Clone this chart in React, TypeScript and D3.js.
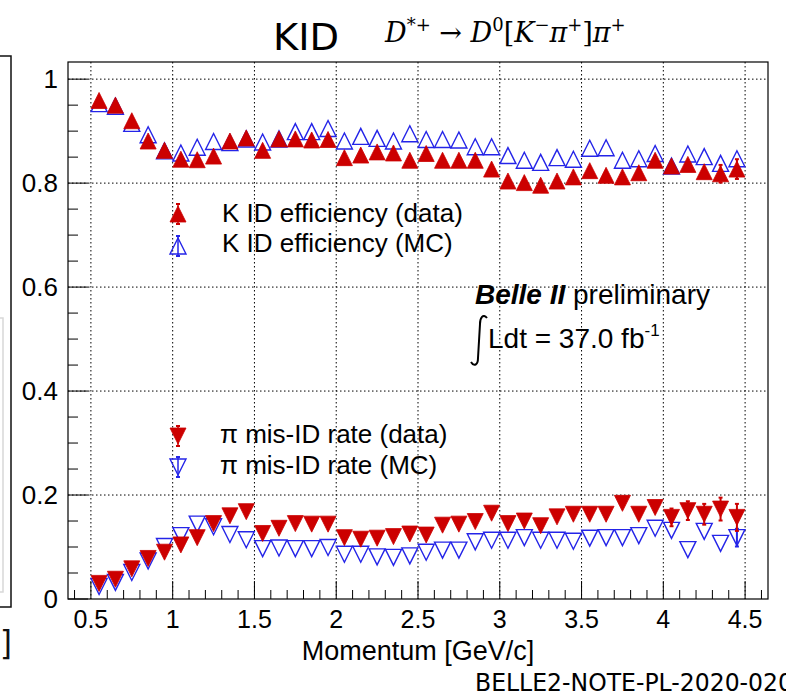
import React from "react";
import * as d3 from "d3";

// ---------- data ----------
const momentum = [
  0.55, 0.65, 0.75, 0.85, 0.95, 1.05, 1.15, 1.25, 1.35, 1.45,
  1.55, 1.65, 1.75, 1.85, 1.95, 2.05, 2.15, 2.25, 2.35, 2.45,
  2.55, 2.65, 2.75, 2.85, 2.95, 3.05, 3.15, 3.25, 3.35, 3.45,
  3.55, 3.65, 3.75, 3.85, 3.95, 4.05, 4.15, 4.25, 4.35, 4.45,
];
const kEffData = [
  0.959, 0.95, 0.92, 0.881, 0.863, 0.846, 0.845, 0.852, 0.881, 0.887,
  0.863, 0.885, 0.885, 0.883, 0.884, 0.849, 0.854, 0.86, 0.858, 0.844,
  0.857, 0.844, 0.844, 0.844, 0.827, 0.804, 0.801, 0.796, 0.804, 0.812,
  0.824, 0.815, 0.812, 0.82, 0.844, 0.833, 0.836, 0.822, 0.818, 0.827,
];
const kEffDataErr = [
  0, 0, 0, 0, 0, 0, 0, 0, 0, 0,
  0, 0, 0, 0, 0, 0, 0, 0, 0, 0,
  0, 0, 0, 0, 0, 0, 0, 0, 0, 0,
  0, 0, 0, 0, 0, 0, 0, 0, 0.017, 0.019,
];
const kEffMC = [
  0.953, 0.948, 0.915, 0.893, 0.862, 0.858, 0.869, 0.88, 0.878, 0.885,
  0.879, 0.885, 0.899, 0.899, 0.905, 0.881, 0.89, 0.886, 0.881, 0.895,
  0.884, 0.884, 0.883, 0.87, 0.87, 0.853, 0.844, 0.84, 0.849, 0.846,
  0.867, 0.868, 0.844, 0.847, 0.857, 0.833, 0.856, 0.851, 0.838, 0.847,
];
const piMisData = [
  0.03, 0.038, 0.058, 0.078, 0.09, 0.104, 0.118, 0.145, 0.16, 0.168,
  0.126, 0.136, 0.145, 0.144, 0.144, 0.118, 0.115, 0.117, 0.12, 0.125,
  0.123, 0.142, 0.144, 0.149, 0.165, 0.145, 0.15, 0.141, 0.158, 0.163,
  0.163, 0.163, 0.184, 0.163, 0.176, 0.157, 0.17, 0.163, 0.173, 0.157,
];
const piMisDataErr = [
  0, 0, 0, 0, 0, 0, 0, 0, 0, 0,
  0, 0, 0, 0, 0, 0, 0, 0, 0, 0,
  0, 0, 0, 0, 0, 0, 0, 0, 0, 0,
  0, 0, 0, 0, 0, 0.017, 0.018, 0.02, 0.022, 0.026,
];
const piMisMC = [
  0.024, 0.032, 0.051, 0.073, 0.101, 0.122, 0.144, 0.139, 0.124, 0.114,
  0.097, 0.098, 0.097, 0.097, 0.099, 0.086, 0.086, 0.081, 0.08, 0.083,
  0.09, 0.094, 0.094, 0.11, 0.113, 0.113, 0.118, 0.113, 0.113, 0.111,
  0.117, 0.118, 0.118, 0.122, 0.136, 0.132, 0.095, 0.13, 0.107, 0.118,
];
const piMisMCErr = [
  0, 0, 0, 0, 0, 0, 0, 0, 0, 0,
  0, 0, 0, 0, 0, 0, 0, 0, 0, 0,
  0, 0, 0, 0, 0, 0, 0, 0, 0, 0,
  0, 0, 0, 0, 0, 0, 0, 0, 0, 0.017,
];

const xMajorTicks = [0.5, 1, 1.5, 2, 2.5, 3, 3.5, 4, 4.5];
const xTickLabels = ["0.5", "1", "1.5", "2", "2.5", "3", "3.5", "4", "4.5"];
const yMajorTicks = [0, 0.2, 0.4, 0.6, 0.8, 1];
const yTickLabels = ["0", "0.2", "0.4", "0.6", "0.8", "1"];

const legendK = ["K ID efficiency (data)", "K ID efficiency (MC)"];
const legendPi = ["\u03c0 mis-ID rate (data)", "\u03c0 mis-ID rate (MC)"];

// ---------- layout ----------
const W = 786;
const H = 695;
const F = { left: 68, right: 768, top: 62, bottom: 599 };
const RED = "#cc0000";
const BLUE = "#2424e8";
const SANS = "'Liberation Sans', Arial, Helvetica, sans-serif";
const NARROW = "'Liberation Sans Narrow', 'DejaVu Sans Condensed', sans-serif";
const SERIF = "'DejaVu Serif', 'Liberation Serif', serif";

const x = d3.scaleLinear().domain([0.36, 4.64]).range([F.left, F.right]);
const y = d3.scaleLinear().domain([0, 1.033]).range([F.bottom, F.top]);

const S = 8; // half size of triangle markers

function triUp(): d3.SymbolType {
  return {
    draw(ctx: any) {
      ctx.moveTo(-S, S);
      ctx.lineTo(S, S);
      ctx.lineTo(0, -S);
      ctx.closePath();
    },
  };
}
function triDown(): d3.SymbolType {
  return {
    draw(ctx: any) {
      ctx.moveTo(-S, -S);
      ctx.lineTo(S, -S);
      ctx.lineTo(0, S);
      ctx.closePath();
    },
  };
}
const upPath = d3.symbol().type(triUp())() as string;
const downPath = d3.symbol().type(triDown())() as string;

type SeriesProps = {
  values: number[];
  errs?: number[];
  up: boolean;
  filled: boolean;
  color: string;
};

function Series({ values, errs, up, filled, color }: SeriesProps) {
  return (
    <g>
      {values.map((v, i) => (
        <path
          key={"m" + i}
          d={up ? upPath : downPath}
          transform={`translate(${x(momentum[i])},${y(v)})`}
          fill={filled ? color : "none"}
          stroke={color}
          strokeWidth={filled ? 0.8 : 1.4}
        />
      ))}
      {errs &&
        values.map((v, i) =>
          errs[i] > 0 ? (
            <g key={"e" + i} stroke={color} strokeWidth={2}>
              <line x1={x(momentum[i])} x2={x(momentum[i])} y1={y(v + errs[i])} y2={y(v - errs[i])} />
              <line x1={x(momentum[i]) - 2} x2={x(momentum[i]) + 2} y1={y(v + errs[i])} y2={y(v + errs[i])} />
              <line x1={x(momentum[i]) - 2} x2={x(momentum[i]) + 2} y1={y(v - errs[i])} y2={y(v - errs[i])} />
            </g>
          ) : null
        )}
    </g>
  );
}

function LegendMarker({ cx, cy, up, filled, color }: { cx: number; cy: number; up: boolean; filled: boolean; color: string }) {
  return (
    <g>
      <path
        d={up ? upPath : downPath}
        transform={`translate(${cx},${cy})`}
        fill={filled ? color : "none"}
        stroke={color}
        strokeWidth={filled ? 0.8 : 1.4}
      />
      <line x1={cx} x2={cx} y1={cy - 10} y2={cy + 10} stroke={color} strokeWidth={1.5} />
      <line x1={cx - 2} x2={cx + 2} y1={cy - 10} y2={cy - 10} stroke={color} strokeWidth={2} />
      <line x1={cx - 2} x2={cx + 2} y1={cy + 10} y2={cy + 10} stroke={color} strokeWidth={2} />
    </g>
  );
}

export default function App() {
  const xMinor = d3.range(4, 47).map((d) => d / 10).filter((d) => !xMajorTicks.some((m) => Math.abs(m - d) < 1e-6));
  const yMinor = d3.range(0, 21).map((d) => d / 20).filter((d) => !yMajorTicks.some((m) => Math.abs(m - d) < 1e-6));

  return (
    <svg
      width={W}
      height={H}
      viewBox={`0 0 ${W} ${H}`}
      style={{ position: "absolute", left: 0, top: 0, background: "#fff" }}
    >
      <rect x={0} y={0} width={W} height={H} fill="#fff" />

      {/* cropped neighbour figure at left edge */}
      <path d="M0,56 H11 V607 H0" fill="none" stroke="#111" strokeWidth={1.5} />
      <path d="M0,318 H3 V592 H0" fill="none" stroke="#d8d8d8" strokeWidth={1.5} />
      <text x={0} y={655} fontFamily={NARROW} fontSize={34} fill="#111">]</text>

      {/* title */}
      <text x={273} y={50} fontFamily={NARROW} fontSize={38} textLength={66} lengthAdjust="spacingAndGlyphs" fill="#000">
        KID
      </text>
      <text x={385} y={42} fontFamily={SERIF} fontSize={27} fontStyle="italic" fill="#000">
        <tspan>D</tspan>
        <tspan dy={-11} fontSize={18} fontStyle="normal">*+</tspan>
        <tspan dy={11} fontStyle="normal"> → </tspan>
        <tspan>D</tspan>
        <tspan dy={-11} fontSize={18} fontStyle="normal">0</tspan>
        <tspan dy={11} fontStyle="normal">[</tspan>
        <tspan>K</tspan>
        <tspan dy={-11} fontSize={18} fontStyle="normal">−</tspan>
        <tspan dy={11}>π</tspan>
        <tspan dy={-11} fontSize={18} fontStyle="normal">+</tspan>
        <tspan dy={11} fontStyle="normal">]</tspan>
        <tspan>π</tspan>
        <tspan dy={-11} fontSize={18} fontStyle="normal">+</tspan>
      </text>

      {/* grid */}
      <g stroke="#000" strokeWidth={1} strokeDasharray="1.5,2.5">
        {xMajorTicks.map((t) => (
          <line key={"gx" + t} x1={x(t)} x2={x(t)} y1={F.top} y2={F.bottom} />
        ))}
        {yMajorTicks.filter((t) => t > 0).map((t) => (
          <line key={"gy" + t} x1={F.left} x2={F.right} y1={y(t)} y2={y(t)} />
        ))}
      </g>

      {/* ticks */}
      <g stroke="#000" strokeWidth={1}>
        {xMajorTicks.map((t) => (
          <line key={"tx" + t} x1={x(t)} x2={x(t)} y1={F.bottom} y2={F.bottom - 18} />
        ))}
        {xMinor.map((t) => (
          <line key={"tmx" + t} x1={x(t)} x2={x(t)} y1={F.bottom} y2={F.bottom - 9} />
        ))}
        {yMajorTicks.map((t) => (
          <line key={"ty" + t} x1={F.left} x2={F.left + 20} y1={y(t)} y2={y(t)} />
        ))}
        {yMinor.map((t) => (
          <line key={"tmy" + t} x1={F.left} x2={F.left + 10} y1={y(t)} y2={y(t)} />
        ))}
      </g>

      {/* frame */}
      <rect x={F.left} y={F.top} width={F.right - F.left} height={F.bottom - F.top} fill="none" stroke="#000" strokeWidth={1.2} />

      {/* tick labels */}
      <g fontFamily={SANS} fontSize={25} fill="#000">
        {xMajorTicks.map((t, i) => (
          <text key={"lx" + t} x={x(t)} y={F.bottom + 29} textAnchor="middle">
            {xTickLabels[i]}
          </text>
        ))}
      </g>
      <g fontFamily={SANS} fontSize={26} fill="#000">
        {yMajorTicks.map((t, i) => (
          <text key={"ly" + t} x={F.left - 10} y={y(t) + 9} textAnchor="end">
            {yTickLabels[i]}
          </text>
        ))}
      </g>
      <text x={(F.left + F.right) / 2} y={660} textAnchor="middle" fontFamily={SANS} fontSize={27} fill="#000">
        Momentum [GeV/c]
      </text>

      {/* series */}
      <Series values={kEffMC} up={true} filled={false} color={BLUE} />
      <Series values={kEffData} errs={kEffDataErr} up={true} filled={true} color={RED} />
      <Series values={piMisMC} errs={piMisMCErr} up={false} filled={false} color={BLUE} />
      <Series values={piMisData} errs={piMisDataErr} up={false} filled={true} color={RED} />

      {/* legends */}
      <LegendMarker cx={178} cy={214} up={true} filled={true} color={RED} />
      <LegendMarker cx={178} cy={246} up={true} filled={false} color={BLUE} />
      <LegendMarker cx={178} cy={436} up={false} filled={true} color={RED} />
      <LegendMarker cx={178} cy={467} up={false} filled={false} color={BLUE} />
      <g fontFamily={SANS} fontSize={26} fill="#000">
        <text x={222} y={222}>{legendK[0]}</text>
        <text x={222} y={252}>{legendK[1]}</text>
        <text x={220} y={443}>{legendPi[0]}</text>
        <text x={220} y={474}>{legendPi[1]}</text>
      </g>

      {/* Belle II label */}
      <g fontFamily={SANS} fontSize={28} fill="#000">
        <text x={475} y={304}>
          <tspan fontWeight="bold" fontStyle="italic">Belle II</tspan>
          <tspan> preliminary</tspan>
        </text>
        <path d="M487,318 C483,313 480,318 480,324 L478,358 C478,365 474,367 471,362" fill="none" stroke="#000" strokeWidth={2} />
        <text x={488} y={348}>
          Ldt = 37.0 fb
          <tspan dy={-12} fontSize={17}>-1</tspan>
        </text>
      </g>

      {/* note id */}
      <text x={475} y={691} fontFamily={NARROW} fontSize={25} textLength={318} lengthAdjust="spacingAndGlyphs" fill="#000">
        BELLE2-NOTE-PL-2020-020
      </text>
    </svg>
  );
}
